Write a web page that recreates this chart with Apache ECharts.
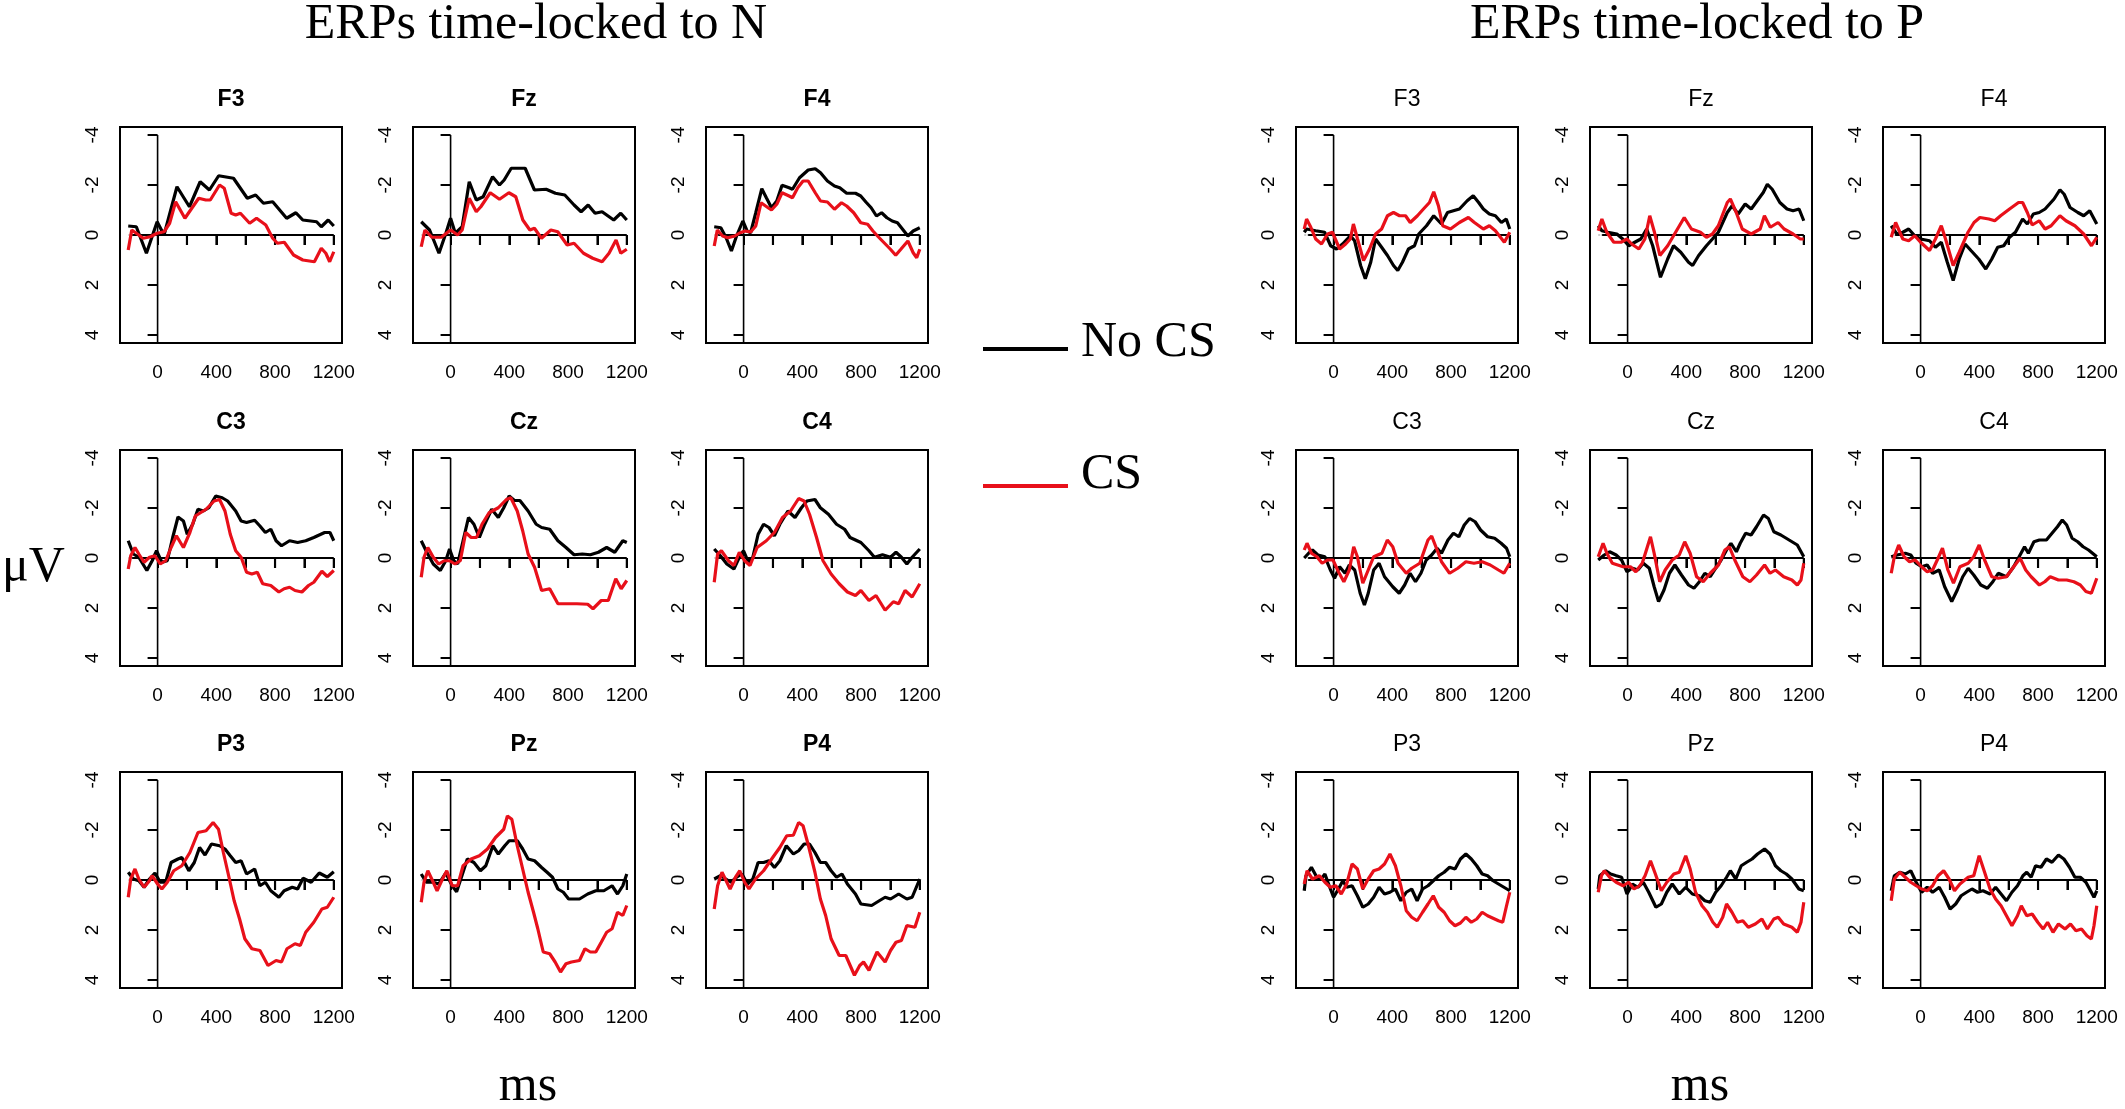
<!DOCTYPE html>
<html>
<head>
<meta charset="utf-8">
<title>ERPs time-locked to N and P</title>
<script src="https://cdn.jsdelivr.net/npm/echarts@6/dist/echarts.min.js"></script>
<style>
  html, body { margin: 0; padding: 0; background: #fff; }
  #chart { width: 2125px; height: 1109px; }
</style>
</head>
<body>
<div id="chart"></div>
<script>
// axis ticks
const channels = ['F3', 'Fz', 'F4', 'C3', 'Cz', 'C4', 'P3', 'Pz', 'P4'];
const xTicks = [0, 200, 400, 600, 800, 1000, 1200];
const xLabels = [0, 400, 800, 1200];
const yTicks = [-4, -2, 0, 2, 4];
const zeroTicks = [200, 400, 600, 800, 1000, 1200];
const epoch = [-200, 1200];

// ERPs time-locked to N: [ms, uV]
const nF3NoCS = [[-200,-0.36],[-145,-0.33],[-76,0.73],[-3,-0.53],[44,0],[132,-1.93],[217,-1.13],[290,-2.13],[353,-1.8],[416,-2.37],[517,-2.27],[611,-1.47],[668,-1.6],[721,-1.27],[784,-1.33],[879,-0.67],[942,-0.89],[989,-0.6],[1083,-0.53],[1115,-0.33],[1162,-0.6],[1200,-0.36]];
const nF3CS = [[-200,0.6],[-176,-0.2],[-145,-0.07],[-98,0.13],[-50,0.07],[-3,-0.07],[44,-0.13],[82,-0.47],[123,-1.33],[186,-0.67],[233,-1.07],[280,-1.47],[328,-1.4],[359,-1.4],[422,-2.0],[454,-1.87],[501,-0.87],[532,-0.8],[564,-0.87],[627,-0.47],[674,-0.67],[737,-0.4],[784,0.13],[816,0.33],[863,0.29],[926,0.8],[989,1.0],[1068,1.07],[1115,0.53],[1146,0.73],[1172,1.07],[1200,0.67]];
const nFzNoCS = [[-200,-0.53],[-143,-0.2],[-79,0.73],[-32,-0.07],[0,-0.67],[32,-0.07],[79,-0.33],[127,-2.13],[175,-1.4],[222,-1.53],[286,-2.33],[333,-2.0],[365,-2.2],[413,-2.67],[508,-2.67],[571,-1.8],[651,-1.83],[714,-1.67],[778,-1.6],[841,-1.2],[889,-0.93],[937,-1.2],[984,-0.87],[1032,-0.93],[1111,-0.6],[1159,-0.87],[1200,-0.6]];
const nFzCS = [[-200,0.47],[-175,-0.2],[-127,0.09],[-63,0.09],[0,-0.2],[48,0],[79,-0.2],[127,-1.47],[175,-0.93],[206,-1.13],[270,-1.69],[333,-1.43],[397,-1.69],[444,-1.53],[492,-0.6],[540,-0.2],[571,-0.27],[619,0.13],[683,-0.2],[730,-0.13],[794,0.4],[841,0.33],[905,0.73],[968,0.93],[1032,1.07],[1079,0.73],[1127,0.2],[1159,0.73],[1200,0.57]];
const nF4NoCS = [[-200,-0.33],[-155,-0.29],[-119,0.11],[-83,0.64],[-48,0.04],[-5,-0.56],[24,-0.16],[48,-0.09],[83,-0.89],[124,-1.85],[155,-1.49],[190,-1.09],[226,-1.36],[262,-1.99],[310,-1.89],[333,-1.83],[381,-2.29],[440,-2.6],[488,-2.65],[524,-2.49],[571,-2.16],[619,-1.96],[655,-1.89],[702,-1.67],[762,-1.67],[798,-1.56],[833,-1.32],[869,-1.09],[905,-0.76],[940,-0.89],[976,-0.69],[1012,-0.56],[1048,-0.49],[1083,-0.23],[1119,0.04],[1155,-0.16],[1200,-0.29]];
const nF4CS = [[-200,0.44],[-179,-0.2],[-143,0.04],[-107,0.11],[-60,0.04],[-24,-0.09],[12,-0.16],[48,-0.12],[83,-0.36],[119,-1.29],[167,-1.09],[190,-1.0],[226,-1.23],[262,-1.69],[310,-1.56],[333,-1.49],[369,-1.89],[405,-2.16],[440,-2.16],[488,-1.69],[524,-1.36],[571,-1.32],[619,-1.03],[667,-1.29],[702,-1.16],[750,-0.89],[798,-0.49],[845,-0.43],[881,-0.16],[917,0.07],[952,0.28],[1000,0.57],[1036,0.81],[1071,0.57],[1119,0.24],[1155,0.71],[1179,0.91],[1200,0.57]];
const nC3NoCS = [[-200,-0.69],[-165,-0.16],[-128,-0.03],[-73,0.5],[-37,0.11],[-7,-0.29],[29,0.17],[66,0.11],[103,-0.82],[139,-1.64],[176,-1.48],[202,-0.95],[239,-1.35],[275,-1.95],[312,-1.88],[349,-2.01],[396,-2.48],[440,-2.41],[477,-2.28],[532,-1.88],[569,-1.48],[606,-1.42],[661,-1.51],[697,-1.28],[734,-1.02],[771,-1.15],[807,-0.69],[844,-0.49],[899,-0.69],[954,-0.62],[1009,-0.69],[1064,-0.82],[1138,-1.02],[1174,-1.02],[1200,-0.69]];
const nC3CS = [[-200,0.44],[-183,-0.09],[-154,-0.42],[-128,-0.16],[-92,0.17],[-55,-0.03],[-18,-0.09],[18,0.24],[55,0.11],[92,-0.42],[128,-0.89],[176,-0.42],[220,-1.02],[257,-1.68],[330,-1.95],[385,-2.28],[422,-2.34],[459,-1.88],[495,-0.95],[532,-0.29],[569,-0.03],[606,0.57],[642,0.64],[679,0.57],[716,1.03],[771,1.1],[826,1.36],[862,1.23],[899,1.17],[936,1.3],[983,1.36],[1028,1.1],[1064,0.97],[1119,0.53],[1156,0.74],[1200,0.5]];
const nCzNoCS = [[-200,-0.69],[-162,-0.23],[-118,0.24],[-70,0.5],[-33,0.11],[-7,-0.36],[22,0.11],[48,0.24],[85,-0.69],[122,-1.62],[159,-1.35],[196,-0.82],[232,-1.35],[280,-1.95],[325,-1.62],[362,-2.01],[399,-2.48],[435,-2.3],[472,-2.3],[528,-1.88],[583,-1.35],[620,-1.22],[675,-1.15],[731,-0.69],[786,-0.42],[841,-0.13],[897,-0.16],[952,-0.13],[1007,-0.23],[1063,-0.42],[1118,-0.23],[1173,-0.69],[1200,-0.62]];
const nCzCS = [[-200,0.77],[-181,-0.03],[-155,-0.42],[-118,-0.03],[-81,0.24],[-44,0.11],[-7,0.11],[30,0.24],[66,0.11],[103,-1.02],[140,-0.82],[177,-0.82],[214,-1.35],[262,-1.81],[325,-2.01],[380,-2.34],[410,-2.41],[454,-1.88],[491,-1.09],[528,-0.16],[572,0.37],[620,1.3],[675,1.23],[731,1.83],[786,1.83],[860,1.83],[934,1.85],[970,2.03],[1026,1.7],[1074,1.7],[1125,0.83],[1162,1.23],[1200,0.9]];
const nC4NoCS = [[-200,-0.36],[-158,-0.09],[-114,0.24],[-66,0.44],[-29,-0.03],[0,-0.29],[33,0.17],[63,-0.03],[99,-0.95],[136,-1.35],[173,-1.22],[210,-0.89],[247,-1.35],[302,-1.88],[350,-1.62],[394,-2.01],[431,-2.28],[486,-2.34],[523,-2.01],[578,-1.75],[633,-1.35],[688,-1.15],[725,-0.82],[799,-0.62],[854,-0.29],[891,-0.03],[946,-0.13],[1001,-0.03],[1038,-0.23],[1075,-0.03],[1112,0.24],[1148,-0.03],[1200,-0.36]];
const nC4CS = [[-200,0.97],[-177,-0.16],[-151,-0.29],[-103,0.11],[-66,0.3],[-29,-0.23],[7,0.11],[44,0.3],[92,-0.42],[155,-0.69],[210,-1.02],[265,-1.62],[320,-1.88],[375,-2.38],[412,-2.28],[449,-1.75],[497,-0.82],[541,0.11],[596,0.64],[651,1.03],[707,1.36],[762,1.5],[799,1.3],[854,1.7],[902,1.5],[964,2.09],[1020,1.75],[1056,1.83],[1100,1.3],[1148,1.56],[1200,1.03]];
const nP3NoCS = [[-200,-0.31],[-165,-0.04],[-128,0.03],[-92,0.29],[-55,-0.04],[-18,-0.28],[18,0.09],[55,0.09],[92,-0.7],[139,-0.84],[165,-0.9],[213,-0.37],[250,-0.7],[286,-1.3],[323,-1.0],[367,-1.44],[422,-1.37],[459,-1.24],[495,-0.97],[532,-0.7],[569,-0.77],[606,-0.24],[661,-0.44],[697,0.23],[734,0.09],[771,0.43],[826,0.69],[862,0.43],[917,0.29],[954,0.36],[991,-0.07],[1046,0.09],[1101,-0.28],[1156,-0.11],[1200,-0.33]];
const nP3CS = [[-200,0.69],[-183,-0.04],[-154,-0.44],[-128,-0.04],[-92,0.29],[-55,0.03],[-37,-0.17],[0,0.16],[29,0.36],[66,0.09],[110,-0.37],[165,-0.57],[220,-1.1],[275,-1.9],[330,-1.97],[378,-2.3],[415,-2.03],[448,-1.1],[484,-0.17],[521,0.82],[558,1.55],[594,2.35],[642,2.75],[697,2.82],[752,3.42],[807,3.22],[844,3.28],[881,2.75],[936,2.55],[972,2.62],[1009,2.09],[1064,1.69],[1119,1.16],[1156,1.09],[1200,0.69]];
const nPzNoCS = [[-200,-0.24],[-166,0.09],[-118,0.09],[-81,0.16],[-33,-0.28],[11,0.23],[41,0.47],[77,-0.17],[114,-0.84],[159,-0.7],[203,-0.37],[240,-0.57],[288,-1.37],[325,-1.04],[369,-1.37],[399,-1.57],[454,-1.57],[491,-1.24],[528,-0.84],[572,-0.77],[620,-0.5],[657,-0.31],[694,-0.11],[731,0.36],[768,0.49],[804,0.76],[878,0.76],[934,0.56],[989,0.43],[1044,0.43],[1100,0.23],[1137,0.56],[1173,0.23],[1200,-0.24]];
const nPzCS = [[-200,0.89],[-181,0.09],[-155,-0.37],[-118,0.09],[-92,0.43],[-55,-0.04],[-26,-0.37],[11,0.23],[48,0.23],[85,-0.57],[140,-0.84],[196,-0.97],[251,-1.24],[306,-1.7],[362,-2.03],[387,-2.56],[417,-2.43],[454,-1.37],[491,-0.44],[528,0.49],[565,1.29],[594,1.95],[631,2.88],[675,2.95],[712,3.28],[749,3.68],[786,3.35],[823,3.28],[878,3.22],[915,2.75],[952,2.88],[989,2.88],[1026,2.49],[1063,2.09],[1100,1.95],[1137,1.29],[1173,1.42],[1200,1.02]];
const nP4NoCS = [[-200,-0.04],[-158,-0.17],[-121,-0.04],[-85,0.09],[-48,-0.11],[-11,-0.24],[26,0.16],[63,-0.04],[99,-0.7],[136,-0.7],[173,-0.77],[210,-0.5],[247,-0.77],[291,-1.37],[339,-1.04],[375,-1.17],[412,-1.44],[449,-1.44],[486,-1.1],[523,-0.7],[559,-0.7],[596,-0.37],[633,-0.11],[670,-0.24],[707,0.16],[762,0.56],[799,0.96],[872,1.02],[927,0.82],[964,0.69],[1001,0.76],[1056,0.56],[1112,0.76],[1148,0.69],[1200,-0.04]];
const nP4CS = [[-200,1.16],[-177,0.23],[-147,-0.31],[-114,0.09],[-92,0.36],[-55,-0.11],[-26,-0.37],[7,0.09],[37,0.36],[81,-0.04],[136,-0.37],[191,-0.84],[247,-1.3],[294,-1.77],[339,-1.79],[375,-2.3],[405,-2.17],[442,-1.37],[486,-0.31],[523,0.76],[559,1.42],[596,2.35],[651,3.02],[696,3.02],[755,3.81],[791,3.42],[817,3.28],[854,3.61],[909,2.88],[964,3.28],[1001,2.82],[1038,2.49],[1075,2.42],[1112,1.82],[1167,1.89],[1200,1.29]];

// ERPs time-locked to P: [ms, uV]
const pF3NoCS = [[-200,-0.11],[-184,-0.24],[-122,-0.17],[-61,-0.11],[-20,0.43],[20,0.56],[61,0.36],[114,0.03],[143,0.23],[184,1.22],[216,1.75],[253,1.09],[286,0.16],[327,0.49],[367,0.82],[408,1.22],[437,1.42],[469,1.09],[510,0.56],[551,0.43],[580,-0.04],[633,-0.37],[682,-0.77],[735,-0.44],[776,-0.9],[816,-0.97],[857,-1.04],[910,-1.37],[951,-1.57],[988,-1.3],[1020,-1.04],[1061,-0.84],[1102,-0.77],[1143,-0.5],[1176,-0.64],[1200,-0.24]];
const pF3CS = [[-200,-0.24],[-184,-0.64],[-155,-0.31],[-122,0.16],[-82,0.36],[-41,-0.04],[-8,-0.11],[41,0.56],[82,0.36],[114,0.16],[135,-0.44],[163,0.16],[204,1.02],[245,0.56],[286,-0.04],[327,-0.24],[367,-0.77],[408,-0.9],[449,-0.77],[490,-0.77],[522,-0.5],[571,-0.77],[612,-1.04],[653,-1.3],[682,-1.73],[714,-1.17],[743,-0.37],[796,-0.24],[857,-0.5],[918,-0.7],[959,-0.5],[1020,-0.24],[1061,-0.37],[1102,-0.17],[1163,0.29],[1200,-0.11]];
const pFzNoCS = [[-200,-0.37],[-175,-0.17],[-134,-0.11],[-73,-0.04],[-33,0.16],[8,0.43],[49,0.29],[90,0.16],[130,-0.24],[171,0.43],[224,1.69],[273,0.96],[313,0.43],[362,0.69],[415,1.09],[443,1.22],[484,0.82],[537,0.43],[578,0.16],[618,-0.11],[679,-0.9],[712,-1.17],[753,-0.84],[801,-1.24],[842,-1.04],[883,-1.37],[924,-1.7],[952,-2.03],[985,-1.83],[1037,-1.3],[1086,-1.04],[1127,-0.97],[1168,-1.04],[1200,-0.57]];
const pFzCS = [[-200,-0.17],[-175,-0.64],[-142,-0.11],[-94,0.29],[-45,0.29],[-4,0.16],[28,0.36],[77,0.56],[118,0.16],[151,-0.77],[183,-0.11],[220,0.82],[273,0.43],[313,0.03],[386,-0.7],[435,-0.24],[496,-0.11],[537,0.09],[578,-0.04],[618,-0.37],[679,-1.3],[700,-1.44],[740,-0.9],[781,-0.24],[842,-0.04],[903,-0.24],[932,-0.77],[972,-0.31],[1025,-0.5],[1066,-0.24],[1127,-0.04],[1176,0.16],[1200,0.16]];
const pF4NoCS = [[-200,-0.37],[-162,-0.04],[-121,-0.11],[-81,-0.24],[-40,0.03],[0,0.16],[61,0.23],[101,0.49],[141,0.29],[182,1.09],[222,1.82],[263,0.96],[303,0.36],[343,0.62],[396,0.96],[444,1.36],[485,0.96],[525,0.49],[566,0.43],[606,0.09],[646,-0.11],[695,-0.64],[727,-0.44],[768,-0.84],[808,-0.9],[848,-1.04],[909,-1.44],[949,-1.81],[978,-1.63],[1018,-1.1],[1071,-0.9],[1111,-0.77],[1152,-0.97],[1200,-0.44]];
const pF4CS = [[-200,0.09],[-170,-0.5],[-121,0.16],[-81,0.23],[-40,0.03],[0,0.29],[61,0.62],[101,0.16],[141,-0.37],[170,0.16],[222,1.22],[263,0.69],[323,-0.11],[364,-0.5],[404,-0.7],[465,-0.64],[505,-0.57],[545,-0.77],[606,-1.04],[667,-1.3],[695,-1.3],[727,-0.9],[760,-0.4],[808,-0.57],[848,-0.24],[889,-0.37],[949,-0.77],[990,-0.57],[1051,-0.37],[1111,-0.04],[1164,0.43],[1200,0.09]];
const pC3NoCS = [[-200,0],[-170,-0.19],[-144,-0.32],[-107,-0.12],[-59,-0.05],[-22,0.48],[7,0.81],[41,0.35],[78,0.61],[107,0.28],[144,0.48],[181,1.41],[210,1.88],[236,1.41],[273,0.48],[310,0.21],[347,0.75],[403,1.15],[447,1.41],[484,1.08],[521,0.61],[558,0.95],[595,0.61],[631,0.08],[668,-0.12],[705,-0.39],[735,-0.19],[779,-0.72],[816,-0.99],[853,-0.85],[890,-1.32],[927,-1.58],[964,-1.45],[1001,-1.12],[1049,-0.85],[1097,-0.79],[1141,-0.59],[1178,-0.39],[1200,-0.05]];
const pC3CS = [[-200,-0.32],[-181,-0.59],[-151,-0.19],[-114,-0.05],[-78,0.21],[-41,0.08],[-4,0.08],[33,0.55],[70,0.95],[107,0.48],[137,-0.45],[162,-0.05],[199,1.01],[236,0.48],[273,-0.05],[329,-0.19],[366,-0.72],[403,-0.45],[439,0.21],[495,0.61],[532,0.41],[587,0.21],[643,-0.72],[668,-0.88],[705,-0.32],[735,0.15],[790,0.61],[846,0.41],[901,0.15],[956,0.21],[1012,0.15],[1067,0.28],[1123,0.48],[1160,0.61],[1200,0.21]];
const pCzNoCS = [[-200,0.08],[-159,-0.12],[-122,-0.25],[-78,-0.12],[-41,0.08],[-4,0.55],[33,0.41],[70,0.48],[107,0.21],[148,0.41],[181,1.15],[211,1.74],[248,1.28],[285,0.61],[322,0.28],[367,0.68],[415,1.08],[452,1.21],[489,0.95],[526,0.61],[563,0.75],[600,0.41],[637,0.08],[674,-0.32],[704,-0.59],[741,-0.25],[767,-0.59],[804,-0.99],[841,-0.92],[878,-1.25],[926,-1.72],[959,-1.58],[996,-1.05],[1044,-0.92],[1100,-0.72],[1156,-0.52],[1200,-0.05]];
const pCzCS = [[-200,-0.05],[-167,-0.59],[-141,-0.19],[-104,0.21],[-67,0.28],[-30,0.35],[19,0.35],[56,0.55],[100,0.21],[156,-0.85],[181,-0.19],[219,0.95],[256,0.48],[304,0.08],[352,-0.12],[389,-0.65],[426,-0.19],[470,0.75],[515,0.95],[563,0.61],[619,0.28],[663,-0.32],[693,-0.45],[730,0.08],[785,0.75],[833,0.95],[878,0.68],[933,0.28],[970,0.61],[1007,0.48],[1063,0.75],[1119,0.88],[1156,1.08],[1181,0.88],[1200,0.21]];
const pC4NoCS = [[-200,-0.05],[-160,-0.12],[-104,-0.19],[-67,-0.12],[-30,0.21],[7,0.35],[45,0.28],[82,0.61],[127,0.48],[164,1.15],[212,1.74],[250,1.28],[287,0.75],[324,0.41],[362,0.68],[410,1.08],[455,1.21],[492,0.95],[529,0.61],[585,0.75],[634,0.35],[671,-0.05],[708,-0.45],[734,-0.19],[772,-0.65],[809,-0.72],[857,-0.72],[895,-0.99],[932,-1.25],[965,-1.52],[995,-1.32],[1032,-0.79],[1070,-0.65],[1107,-0.45],[1144,-0.32],[1200,-0.05]];
const pC4CS = [[-200,0.61],[-179,-0.05],[-149,-0.52],[-112,-0.05],[-75,0.15],[-37,0.08],[7,0.35],[45,0.55],[82,0.48],[119,0.01],[149,-0.39],[186,0.48],[224,1.01],[268,0.35],[324,0.21],[362,-0.05],[399,-0.52],[436,0.08],[485,0.75],[529,0.81],[585,0.75],[634,0.35],[678,0.01],[716,0.48],[753,0.75],[809,1.08],[846,0.95],[883,0.75],[939,0.88],[995,0.88],[1044,0.95],[1088,1.08],[1126,1.34],[1163,1.41],[1200,0.81]];
const pP3NoCS = [[-200,0.43],[-188,-0.17],[-151,-0.51],[-114,-0.11],[-85,-0.04],[-59,-0.24],[-30,0.23],[0,0.69],[33,0.36],[63,0.03],[89,0.29],[126,0.23],[162,0.63],[199,1.09],[236,0.96],[273,0.69],[310,0.29],[347,0.56],[384,0.49],[421,0.36],[458,0.83],[495,0.49],[532,0.36],[569,0.83],[606,0.36],[643,0.23],[679,0.03],[716,-0.17],[753,-0.31],[790,-0.51],[827,-0.44],[864,-0.84],[901,-1.04],[938,-0.84],[975,-0.57],[1012,-0.24],[1049,-0.17],[1086,0.03],[1123,0.16],[1160,0.29],[1200,0.43]];
const pP3CS = [[-200,0.16],[-181,-0.37],[-144,-0.04],[-96,-0.17],[-59,0.09],[-22,0.29],[15,0.23],[52,0.56],[89,0.16],[126,-0.64],[162,-0.44],[199,0.36],[236,-0.04],[273,-0.37],[310,-0.44],[347,-0.64],[384,-1.04],[421,-0.57],[458,0.23],[495,1.23],[532,1.49],[569,1.63],[606,1.29],[643,0.96],[679,0.63],[716,1.09],[753,1.29],[790,1.63],[827,1.83],[864,1.72],[901,1.49],[938,1.69],[975,1.56],[1012,1.29],[1049,1.43],[1086,1.53],[1123,1.63],[1152,1.69],[1178,1.03],[1200,0.49]];
const pPzNoCS = [[-200,0.36],[-189,-0.17],[-148,-0.37],[-115,-0.24],[-78,-0.17],[-41,-0.11],[-4,0.56],[33,0.16],[70,0.29],[107,0.09],[144,0.49],[193,1.09],[230,0.96],[267,0.49],[304,0.16],[352,0.56],[396,0.29],[441,0.56],[489,0.63],[526,0.83],[563,0.89],[600,0.49],[637,0.23],[674,-0.11],[700,-0.37],[737,-0.04],[774,-0.57],[811,-0.71],[848,-0.84],[885,-1.04],[933,-1.24],[970,-1.04],[1007,-0.57],[1044,-0.37],[1081,-0.24],[1119,-0.04],[1167,0.36],[1200,0.43]];
const pPzCS = [[-200,0.49],[-178,-0.17],[-159,-0.37],[-122,-0.11],[-78,0.09],[-30,0.23],[7,0.09],[44,0.36],[81,0.23],[119,-0.17],[156,-0.77],[185,-0.31],[230,0.43],[267,0.09],[315,-0.24],[352,-0.31],[396,-0.97],[426,-0.44],[463,0.49],[507,1.03],[544,1.29],[581,1.69],[611,1.89],[648,1.49],[674,0.96],[711,1.29],[748,1.69],[785,1.63],[822,1.89],[870,1.76],[915,1.56],[952,1.96],[996,1.56],[1026,1.49],[1063,1.76],[1119,1.89],[1156,2.09],[1181,1.69],[1200,0.89]];
const pP4NoCS = [[-200,0.43],[-179,-0.17],[-142,-0.31],[-104,-0.24],[-67,-0.37],[-30,0.09],[7,0.49],[45,0.29],[82,0.49],[127,0.29],[164,0.69],[201,1.16],[239,0.96],[276,0.63],[313,0.49],[350,0.36],[388,0.49],[425,0.43],[473,0.56],[511,0.29],[548,0.56],[585,0.83],[622,0.49],[660,0.23],[697,-0.17],[723,-0.31],[753,-0.11],[783,-0.57],[820,-0.51],[857,-0.84],[895,-0.71],[939,-1.0],[976,-0.84],[1014,-0.51],[1051,-0.11],[1088,-0.11],[1126,0.09],[1163,0.49],[1181,0.69],[1200,0.43]];
const pP4CS = [[-200,0.83],[-179,-0.04],[-142,-0.31],[-104,-0.11],[-67,0.09],[-30,0.23],[7,0.36],[45,0.43],[82,0.23],[119,-0.17],[157,-0.37],[194,-0.04],[231,0.43],[268,0.16],[324,-0.11],[362,-0.17],[399,-0.97],[436,-0.31],[473,0.36],[511,0.76],[548,1.03],[585,1.43],[622,1.83],[660,1.43],[686,1.03],[723,1.43],[760,1.36],[798,1.69],[835,1.96],[865,1.69],[902,2.09],[939,1.76],[984,1.96],[1021,1.76],[1058,2.03],[1096,1.96],[1133,2.23],[1163,2.36],[1181,1.83],[1200,1.03]];

const nData = [[nF3NoCS, nF3CS], [nFzNoCS, nFzCS], [nF4NoCS, nF4CS],
  [nC3NoCS, nC3CS], [nCzNoCS, nCzCS], [nC4NoCS, nC4CS],
  [nP3NoCS, nP3CS], [nPzNoCS, nPzCS], [nP4NoCS, nP4CS]];
const pData = [[pF3NoCS, pF3CS], [pFzNoCS, pFzCS], [pF4NoCS, pF4CS],
  [pC3NoCS, pC3CS], [pCzNoCS, pCzCS], [pC4NoCS, pC4CS],
  [pP3NoCS, pP3CS], [pPzNoCS, pPzCS], [pP4NoCS, pP4CS]];

// layout
const COL_N = [120, 413, 706];
const COL_P = [1296, 1590, 1883];
const ROW = [127, 450, 772];
const W = 222, H = 216;
const X_MIN = -256, X_MAX = 1256, Y_MIN = -4.32, Y_MAX = 4.32;
const RED = '#e8101a';
const SANS = "'Liberation Sans', Arial, sans-serif";
const SERIF = "'Liberation Serif', 'Times New Roman', serif";

const chart = echarts.init(document.getElementById('chart'));

const grids = [], xAxes = [], yAxes = [], series = [], graphics = [];

function addPanel(left, top, name, pair, plainTitle) {
  const gi = grids.length;
  grids.push({ left: left, top: top, width: W, height: H, show: true,
    borderColor: '#000', borderWidth: 2, backgroundColor: 'transparent' });
  xAxes.push({
    type: 'value', gridIndex: gi, min: X_MIN, max: X_MAX, position: 'bottom',
    axisLine: { show: false },
    axisTick: { show: true, length: 10, customValues: xTicks, lineStyle: { color: '#000', width: 2 } },
    axisLabel: { customValues: xLabels, color: '#000', fontSize: 19, fontFamily: SANS, margin: 20,
      formatter: v => String(v) },
    splitLine: { show: false }
  });
  yAxes.push({
    type: 'value', gridIndex: gi, min: Y_MIN, max: Y_MAX, inverse: true,
    axisLine: { show: false },
    axisTick: { show: true, length: 10, customValues: yTicks, lineStyle: { color: '#000', width: 2 } },
    axisLabel: { customValues: yTicks, rotate: 90, color: '#000', fontSize: 19, fontFamily: SANS, margin: 18,
      formatter: v => String(v) },
    splitLine: { show: false }
  });
  const base = { xAxisIndex: gi, yAxisIndex: gi, silent: true, symbol: 'none' };
  // baseline at 0 uV with small ticks
  series.push(Object.assign({ type: 'line', data: epoch.map(t => [t, 0]),
    lineStyle: { color: '#000', width: 2.2 }, z: 2 }, base));
  series.push({ type: 'scatter', xAxisIndex: gi, yAxisIndex: gi, silent: true,
    data: zeroTicks.map(t => [t, 0]), symbol: 'rect', symbolSize: [2.2, 10], symbolOffset: [0, 5],
    itemStyle: { color: '#000' }, z: 2 });
  series.push({ type: 'scatter', xAxisIndex: gi, yAxisIndex: gi, silent: true,
    data: [[epoch[0], 0]], symbol: 'emptyCircle', symbolSize: 6,
    itemStyle: { color: '#fff', borderColor: '#000', borderWidth: 1 }, z: 2 });
  // stimulus onset line
  series.push(Object.assign({ type: 'line', data: [[0, -4], [0, Y_MAX]],
    lineStyle: { color: '#000', width: 1.6 }, z: 2 }, base));
  series.push(Object.assign({ type: 'line', name: 'No CS', data: pair[0],
    lineStyle: { color: '#000', width: 3.2 }, z: 3 }, base));
  series.push(Object.assign({ type: 'line', name: 'CS', data: pair[1],
    lineStyle: { color: RED, width: 3.2 }, z: 4 }, base));
  graphics.push({ type: 'text', x: left + W / 2, y: top - 27, silent: true,
    style: { text: name, fill: '#000', textAlign: 'center', textVerticalAlign: 'middle',
      font: (plainTitle ? 'normal 23px ' : 'bold 23px ') + SANS } });
}

channels.forEach((ch, k) => {
  const r = Math.floor(k / 3), c = k % 3;
  addPanel(COL_N[c], ROW[r], ch, nData[k], false);
});
channels.forEach((ch, k) => {
  const r = Math.floor(k / 3), c = k % 3;
  addPanel(COL_P[c], ROW[r], ch, pData[k], true);
});

function bigText(text, x, y, align) {
  graphics.push({ type: 'text', x: x, y: y, silent: true,
    style: { text: text, fill: '#000', textAlign: align, textVerticalAlign: 'middle', font: '50px ' + SERIF } });
}
bigText('ERPs time-locked to N', 536, 25, 'center');
bigText('ERPs time-locked to P', 1697, 25, 'center');
bigText('No CS', 1081, 343, 'left');
bigText('CS', 1081, 475, 'left');
bigText('\u03bcV', 2, 568, 'left');
bigText('ms', 528, 1087, 'center');
bigText('ms', 1700, 1087, 'center');

// legend keys
graphics.push({ type: 'line', silent: true, shape: { x1: 983, y1: 349, x2: 1068, y2: 349 },
  style: { stroke: '#000', lineWidth: 4 } });
graphics.push({ type: 'line', silent: true, shape: { x1: 983, y1: 486, x2: 1068, y2: 486 },
  style: { stroke: RED, lineWidth: 4 } });

chart.setOption({
  backgroundColor: '#fff',
  animation: false,
  grid: grids,
  xAxis: xAxes,
  yAxis: yAxes,
  series: series,
  graphic: graphics
});
</script>
</body>
</html>
